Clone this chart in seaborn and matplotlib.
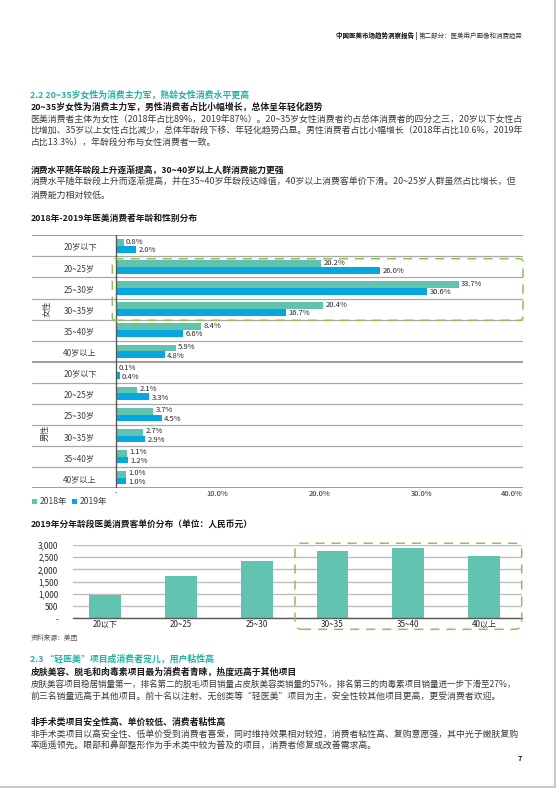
import numpy as np
import pandas as pd
import matplotlib
matplotlib.use("Agg")
import matplotlib.pyplot as plt
import seaborn as sns
from matplotlib.patches import FancyBboxPatch
from matplotlib.transforms import IdentityTransform
from matplotlib.lines import Line2D

# ---------------- data ----------------
ages = ["20岁以下", "20~25岁", "25~30岁", "30~35岁", "35~40岁", "40岁以上"]
genders = ["女性", "男性"]
years = ["2018年", "2019年"]
female_2018 = [0.8, 20.2, 33.7, 20.4, 8.4, 5.9]
female_2019 = [2.0, 26.0, 30.6, 16.7, 6.6, 4.8]
male_2018 = [0.1, 2.1, 3.7, 2.7, 1.1, 1.0]
male_2019 = [0.4, 3.3, 4.5, 2.9, 1.2, 1.0]
share_ticks = [0, 10, 20, 30, 40]
share_tick_labels = ["-", "10.0%", "20.0%", "30.0%", "40.0%"]

price_ages = ["20以下", "20~25", "25~30", "30~35", "35~40", "40以上"]
price_values = [950, 1730, 2345, 2755, 2875, 2550]
price_ticks = [0, 500, 1000, 1500, 2000, 2500, 3000]
price_tick_labels = ["-", "500", "1,000", "1,500", "2,000", "2,500", "3,000"]

# ---------------- style ----------------
sns.set_theme(style="white")
plt.rcParams["font.family"] = ["Noto Sans CJK SC", "DejaVu Sans"]
plt.rcParams["axes.unicode_minus"] = False

C18 = "#5fc3ae"
C19 = "#06a7e0"
CBAR = "#62c4b0"
GREEN = "#8dc154"
TEAL_T = "#25b1a3"
BODY = "#3b3b3b"
BOLDC = "#1a1a1a"

W, H = 556, 788
fig = plt.figure(figsize=(W / 100, H / 100), dpi=100)
fig.patch.set_facecolor("white")
R = fig.canvas.get_renderer()


def fx(x):
    return x / W


def fy(y):
    return 1 - y / H


def put(x, y, s, size, color, weight="normal", ha="left", **kw):
    return fig.text(fx(x), fy(y), s, fontsize=size, color=color,
                    fontweight=weight, ha=ha, va="center", **kw)


def put_fit(x, y, s, target, color, weight="normal"):
    t = put(x, y, s, 10, color, weight)
    w = t.get_window_extent(R).width
    t.set_fontsize(10 * target / w)
    return t


def dashed_box(x0, y0, x1, y1, r):
    p = FancyBboxPatch((x0, H - y1), x1 - x0, y1 - y0,
                       boxstyle=f"round,pad=0,rounding_size={r}",
                       transform=IdentityTransform(), fill=False,
                       ec=GREEN, lw=1.1, ls=(0, (6, 4.5)), zorder=20)
    fig.add_artist(p)


# ---------------- header ----------------
h1 = put(335.7, 36, "中国医美市场趋势洞察报告 | ", 10, "#111111", "bold")
h2 = put(0, 36, "第二部分：医美用户画像和消费趋势", 10, "#333333")
w1 = h1.get_window_extent(R).width
w2 = h2.get_window_extent(R).width
sc = (522.7 - 335.7) / (w1 + w2)
h1.set_fontsize(10 * sc)
h2.set_fontsize(10 * sc)
h2.set_x(fx(335.7 + w1 * sc))

# ---------------- body texts ----------------
X0 = 30.5
put_fit(X0, 95, "2.2 20~35岁女性为消费主力军，熟龄女性消费水平更高", 219, TEAL_T, "bold")
put_fit(X0, 107, "20~35岁女性为消费主力军，男性消费者占比小幅增长，总体呈年轻化趋势", 291, BOLDC, "bold")

full_lines = [
    (119, "医美消费者主体为女性（2018年占比89%，2019年87%）。20~35岁女性消费者约占总体消费者的四分之三，20岁以下女性占", 491),
    (131, "比增加、35岁以上女性占比减少，总体年龄段下移、年轻化趋势凸显。男性消费者占比小幅增长（2018年占比10.6%，2019年", 492),
    (182, "消费水平随年龄段上升而逐渐提高，并在35~40岁年龄段达峰值，40岁以上消费客单价下滑。20~25岁人群虽然占比增长，但", 485),
    (684.3, "皮肤美容项目稳居销量第一，排名第二的脱毛项目销量占皮肤美容类销量的57%，排名第三的肉毒素项目销量进一步下滑至27%，", 488),
    (734.8, "非手术类项目以高安全性、低单价受到消费者喜爱，同时维持效果相对较短，消费者粘性高、复购意愿强，其中光子嫩肤复购", 487),
]
sizes = []
for y, s, tw in full_lines:
    t = put_fit(X0, y, s, tw, BODY)
    sizes.append(t.get_fontsize())
base = float(np.median(sizes))

put(X0, 143.5, "占比13.3%），年龄段分布与女性消费者一致。", base, BODY)
put_fit(X0, 169.5, "消费水平随年龄段上升逐渐提高，30~40岁以上人群消费能力更强", 255, BOLDC, "bold")
put(X0, 195, "消费能力相对较低。", base, BODY)

put_fit(X0, 218.3, "2018年-2019年医美消费者年龄和性别分布", 166.7, BOLDC, "bold")
put_fit(X0, 524, "2019年分年龄段医美消费客单价分布（单位：人民币元）", 222, BOLDC, "bold")
put(X0, 638.3, "资料来源：美团", 4.9, "#555555")

put_fit(X0, 659, "2.3 “轻医美”项目成消费者宠儿，用户粘性高", 184, TEAL_T, "bold")
put_fit(X0, 671.7, "皮肤美容、脱毛和肉毒素项目最为消费者青睐，热度远高于其他项目", 266, BOLDC, "bold")
put(X0, 696, "前三名销量远高于其他项目。前十名以注射、无创类等“轻医美”项目为主，安全性较其他项目更高，更受消费者欢迎。", base, BODY)
put_fit(X0, 722, "非手术类项目安全性高、单价较低、消费者粘性高", 195, BOLDC, "bold")
put(X0, 746.5, "率遥遥领先。眼部和鼻部整形作为手术类中较为普及的项目，消费者修复或改善需求高。", base, BODY)
put(522, 758.3, "7", 5.2, "#111111", "bold", ha="right")

# ---------------- chart 1 ----------------
rows = []
for g, v18, v19 in [("女性", female_2018, female_2019), ("男性", male_2018, male_2019)]:
    for a, a18, a19 in zip(ages, v18, v19):
        rows.append({"row": g + a, "age": a, "year": years[0], "value": a18})
        rows.append({"row": g + a, "age": a, "year": years[1], "value": a19})
df1 = pd.DataFrame(rows)
order = [g + a for g in genders for a in ages]

ax1 = fig.add_axes([fx(31.5), fy(488.3), (523 - 31.5) / W, (488.3 - 235.3) / H])
sns.barplot(data=df1, y="row", x="value", hue="year", order=order,
            hue_order=years, palette=[C18, C19], orient="h", width=0.635,
            saturation=1, linewidth=0, ax=ax1)
ax1.set_xlim(-8.27, 40)
ax1.set_ylim(len(order) - 0.5, -0.5)
for s in ax1.spines.values():
    s.set_visible(False)
for k in range(len(order) + 1):
    lw, c = (1.2, "#8c8c8c") if k in (0, 6, 12) else (0.9, "#a8a8a8")
    ax1.axhline(k - 0.5, color=c, lw=lw, zorder=1)
ax1.axvline(0, color="#595959", lw=1.0, zorder=3)
for ci, cont in enumerate(ax1.containers):
    anns = ax1.bar_label(cont, fmt="%.1f%%", padding=1.6, fontsize=5.5,
                         color="#262626")
    dy = 0.7 if ci == 0 else -0.7
    for a in anns:
        a.xyann = (1.6, dy)
for i, key in enumerate(order):
    ax1.text(-5.14, i + 0.08, df1.loc[df1["row"] == key, "age"].iloc[0],
             ha="left", va="center", fontsize=5.9, color="#404040")
ax1.set_yticks([])
ax1.set_xticks(share_ticks)
ax1.set_xticklabels(share_tick_labels, fontsize=5.5, color="#262626")
ax1.get_xticklabels()[-1].set_ha("right")
ax1.tick_params(axis="x", length=0, pad=1.0)
ax1.set_xlabel("")
ax1.set_ylabel("")

leg = ax1.get_legend()
handles = leg.legend_handles
labels = [t.get_text() for t in leg.texts]
leg.remove()
fl = fig.legend(handles, labels, loc="center left",
                bbox_to_anchor=(fx(32.3), fy(501.7)), ncol=2, frameon=False,
                fontsize=6.2, handlelength=0.55, handleheight=0.55,
                handletextpad=0.3, columnspacing=0.55, borderaxespad=0,
                borderpad=0)
for t in fl.get_texts():
    t.set_color("#404040")

put(46.7, 309, "女性", 5.9, "#404040", ha="center", rotation=90)
put(45.5, 433.3, "男性", 5.9, "#404040", ha="center", rotation=90)
dashed_box(112.3, 258.7, 523, 320.3, 3)

# ---------------- chart 2 ----------------
df2 = pd.DataFrame({"age": price_ages, "price": price_values})
ax2 = fig.add_axes([fx(72.7), fy(618.3), (521.7 - 72.7) / W, (618.3 - 545) / H])
sns.barplot(data=df2, x="age", y="price", order=price_ages, color=CBAR,
            saturation=1, width=0.42, linewidth=0, ax=ax2, zorder=3)
ax2.set_xlim(-0.43, 5.5)
ax2.set_ylim(0, 3000)
ax2.set_yticks(price_ticks)
ax2.set_yticklabels(price_tick_labels, fontsize=5.8, color="#262626")
ax2.set_xticks(range(len(price_ages)))
ax2.set_xticklabels(price_ages, fontsize=5.8, color="#262626")
ax2.yaxis.grid(True, color="#bdbdbd", lw=1.0)
ax2.xaxis.grid(False)
ax2.set_axisbelow(True)
for side in ("left", "right", "top"):
    ax2.spines[side].set_visible(False)
ax2.spines["bottom"].set_color("#595959")
ax2.spines["bottom"].set_linewidth(1.0)
ax2.spines["bottom"].set_zorder(4)
ax2.tick_params(axis="y", length=0, pad=10.4)
ax2.tick_params(axis="x", length=0, pad=1.5)
ax2.set_xlabel("")
ax2.set_ylabel("")
ax2.set_facecolor("none")
dashed_box(295, 543.3, 521.7, 629.3, 7)

# ---------------- page edges ----------------
fig.add_artist(Line2D([fx(554.8), fx(554.8)], [0, 1], color="#c9c9c9", lw=1.6,
                      transform=fig.transFigure))
fig.add_artist(Line2D([0, 1], [fy(786.8), fy(786.8)], color="#c9c9c9", lw=1.6,
                      transform=fig.transFigure))

fig.savefig("out.png", dpi=100, facecolor="white")
